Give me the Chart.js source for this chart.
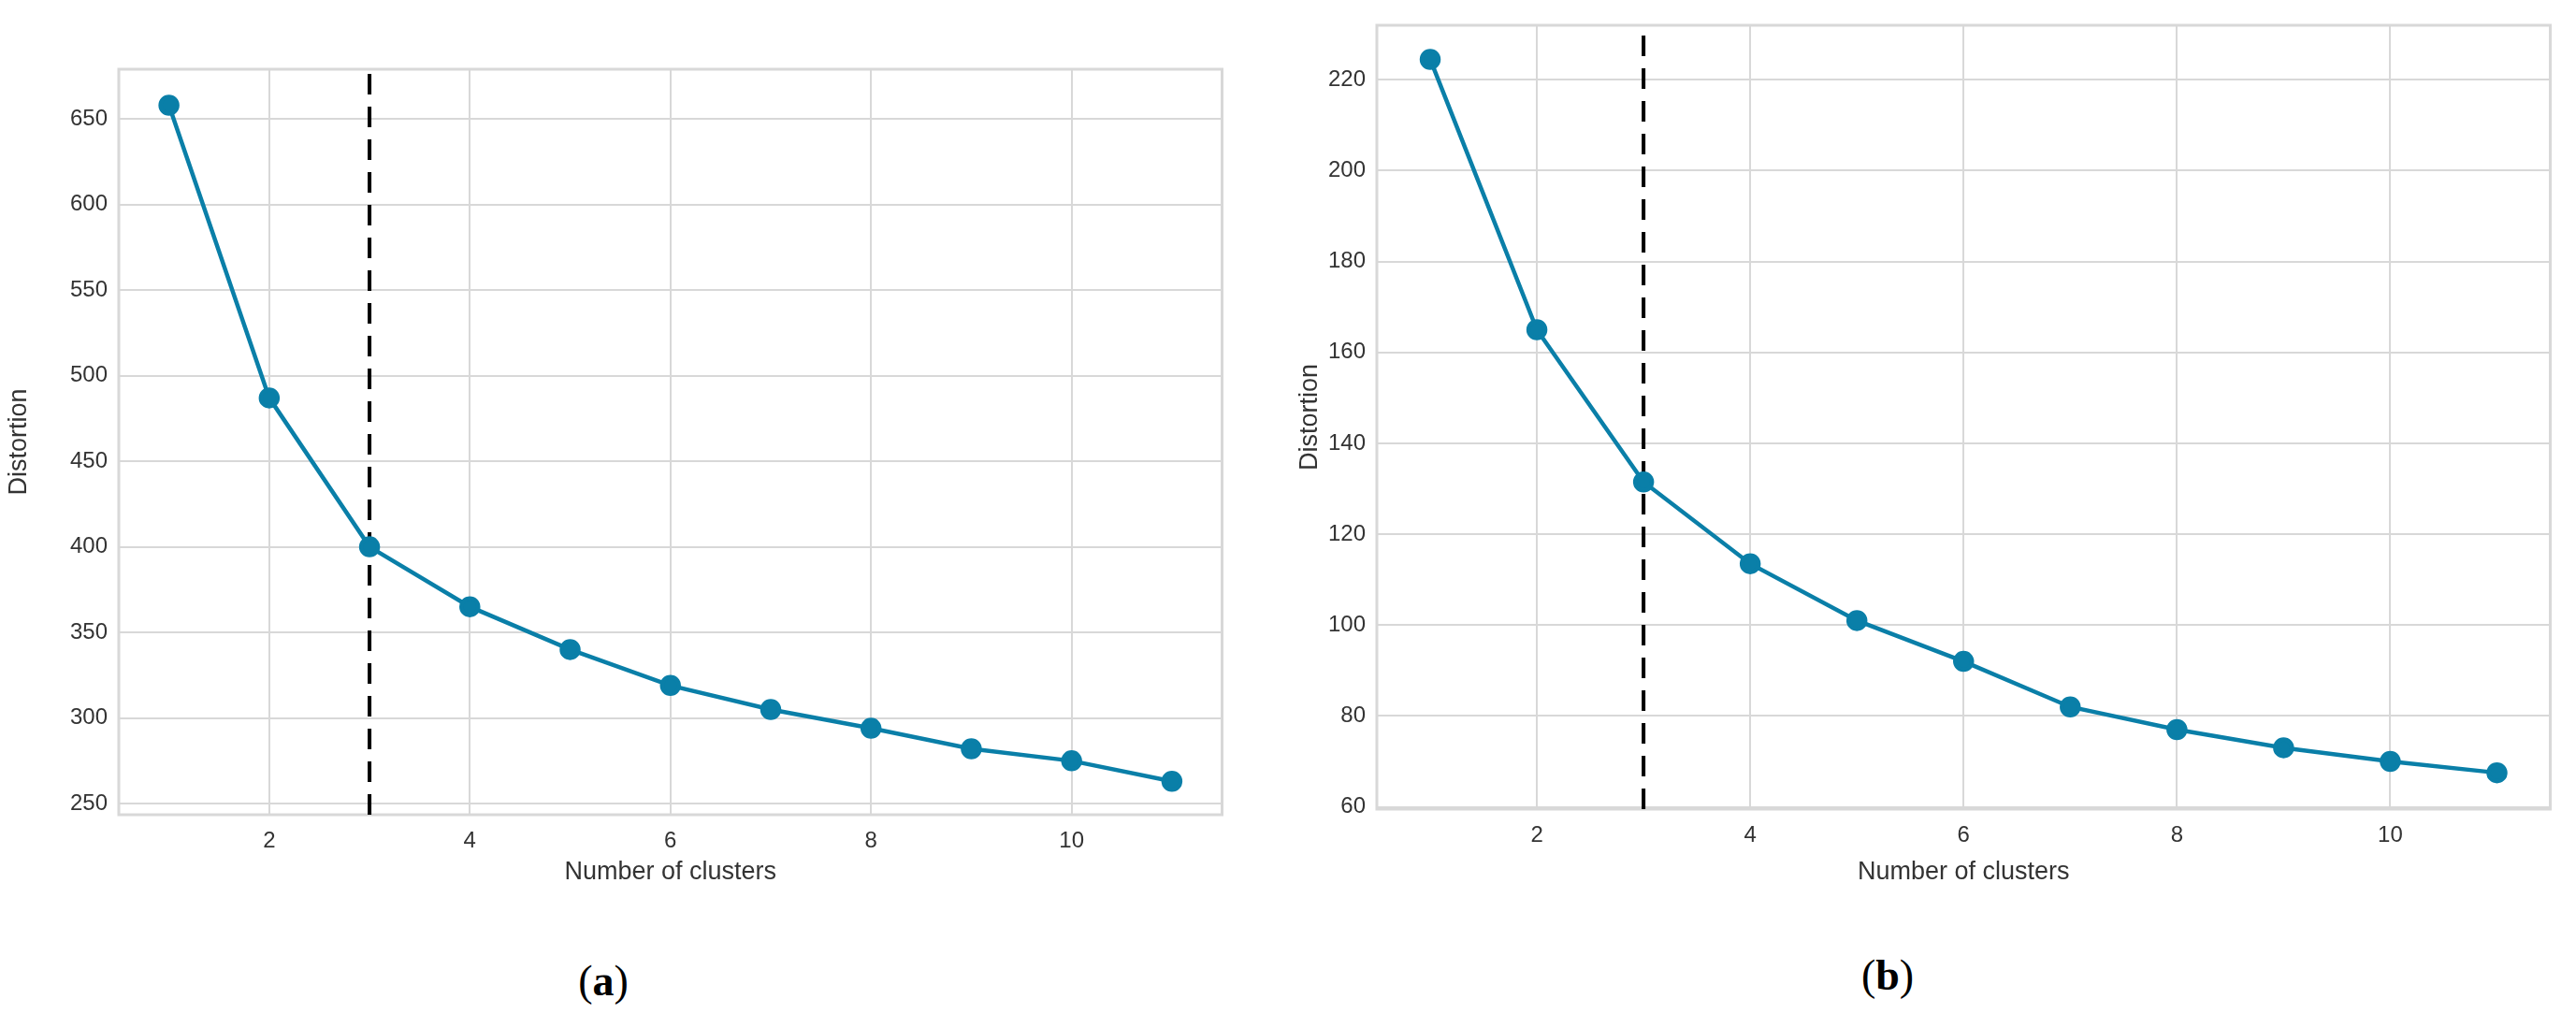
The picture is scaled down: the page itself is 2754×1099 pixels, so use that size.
<!DOCTYPE html>
<html><head><meta charset="utf-8">
<script src="https://cdn.jsdelivr.net/npm/chart.js@4"></script>
<style>
body{margin:0;background:#fff;width:2754px;height:1099px;position:relative;overflow:hidden;font-family:"Liberation Serif",serif}
.w{position:absolute}
.lab{position:absolute;font-size:46px;transform:translateX(-50%)}
</style></head><body>
<div class="w" style="left:0;top:0;width:1320px;height:1000px"><canvas id="c1"></canvas></div>
<div class="w" style="left:1380px;top:0;width:1360px;height:1000px"><canvas id="c2"></canvas></div>
<div class="lab" style="left:645px;top:1022px">(<b>a</b>)</div>
<div class="lab" style="left:2018px;top:1016px">(<b>b</b>)</div>
<script>
const clusters=[1,2,3,4,5,6,7,8,9,10,11];
const distA=[658,487,400,365,340,319,305,294,282,275,263];
const distB=[224.5,165,131.5,113.5,101,92,82,77,73,70,67.5];
const xTicks=[2,4,6,8,10];
const yTicksA=[250,300,350,400,450,500,550,600,650];
const yTicksB=[60,80,100,120,140,160,180,200,220];
const elbowK=3;

const frame={id:'frame',beforeDatasetsDraw(c){const a=c.chartArea,x=c.ctx;x.save();x.strokeStyle='#d8d8d8';x.lineWidth=3;x.strokeRect(a.left,a.top,a.right-a.left,a.bottom-a.top);x.restore();}};

function make(id,vals,yt,ymin,ymax,yw,xh,pad){
  const grid={color:'#d8d8d8',lineWidth:2,drawTicks:false};
  new Chart(document.getElementById(id),{
    type:'scatter',
    plugins:[frame],
    data:{datasets:[
      {data:clusters.map((k,i)=>({x:k,y:vals[i]})),showLine:true,borderColor:'#0a7fa8',backgroundColor:'#0a7fa8',borderWidth:4.5,pointRadius:9,pointHoverRadius:9},
      {data:[{x:elbowK,y:ymin},{x:elbowK,y:ymax}],showLine:true,borderColor:'#000',borderWidth:4,borderDash:[22,13],pointRadius:0}
    ]},
    options:{responsive:true,maintainAspectRatio:false,animation:false,
      layout:{padding:pad},
      plugins:{legend:{display:false},tooltip:{enabled:false}},
      scales:{
        x:{type:'linear',min:0.5,max:11.5,grid:grid,border:{color:'#d8d8d8',width:2},
          afterBuildTicks:s=>{s.ticks=xTicks.map(v=>({value:v}))},
          afterFit:s=>{s.height=xh},
          ticks:{color:'#333',font:{family:'Liberation Sans',size:24},padding:14},
          title:{display:true,text:'Number of clusters',color:'#333',font:{family:'Liberation Sans',size:27},padding:{top:4}}},
        y:{min:ymin,max:ymax,grid:grid,border:{color:'#d8d8d8',width:2},
          afterBuildTicks:s=>{s.ticks=yt.map(v=>({value:v}))},
          afterFit:s=>{s.width=yw},
          ticks:{color:'#333',font:{family:'Liberation Sans',size:24},padding:12},
          title:{display:true,text:'Distortion',color:'#333',font:{family:'Liberation Sans',size:27},padding:{bottom:8}}}
      }}
  });
}
make('c1',distA,yTicksA,243.5,679,127,82,{top:74,right:12,left:0,bottom:47});
make('c2',distB,yTicksB,59.5,232,92,88,{top:27,right:13,left:0,bottom:47});
</script></body></html>
